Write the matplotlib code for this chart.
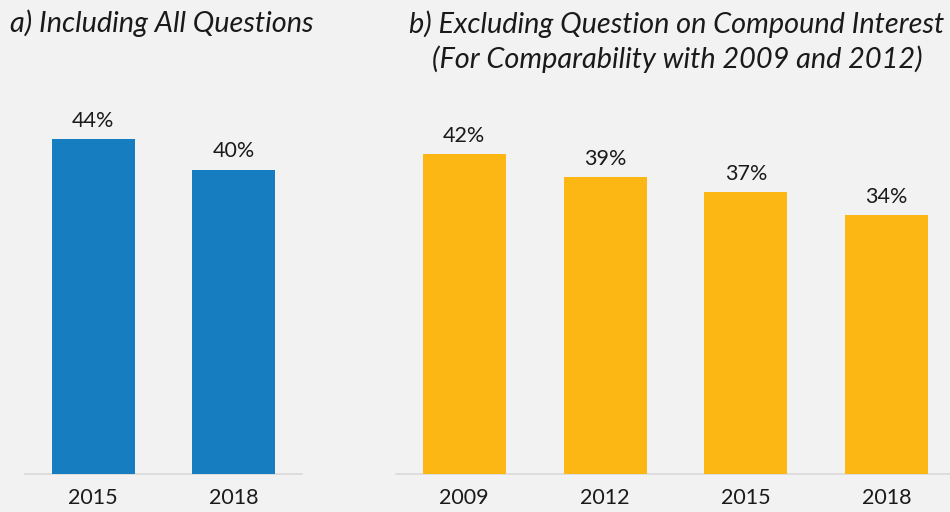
import matplotlib
matplotlib.use("Agg")
import matplotlib.pyplot as plt

plt.rcParams["font.family"] = ["Lato", "DejaVu Sans"]

years_a = ["2015", "2018"]
share_a = [44, 40]
years_b = ["2009", "2012", "2015", "2018"]
share_b = [42, 39, 37, 34]

title_a = "a) Including All Questions"
title_b = "b) Excluding Question on Compound Interest\n(For Comparability with 2009 and 2012)"

BG = "#f2f2f2"
BLUE = "#167ec0"
GOLD = "#fdb714"
INK = "#1a1a1a"

fig = plt.figure(figsize=(9.5, 5.12), dpi=100, facecolor=BG)
ax_a = fig.add_axes([25 / 950, 38 / 512, 277 / 950, 380.5 / 512])
ax_b = fig.add_axes([396 / 950, 38 / 512, 559 / 950, 380.5 / 512])


def panel(ax, cats, vals, color):
    ax.set_facecolor(BG)
    x = range(len(cats))
    bars = ax.bar(x, vals, width=0.59, color=color, zorder=2)
    ax.bar_label(bars, labels=[f"{v}%" for v in vals], padding=6,
                 fontsize=15.5, color=INK)
    ax.set_xticks(list(x))
    ax.set_xticklabels(cats, fontsize=15.5, color=INK)
    ax.set_xlim(-0.485, len(cats) - 1 + 0.485)
    ax.set_ylim(0, 50)
    ax.set_yticks([])
    for s in ("top", "left", "right"):
        ax.spines[s].set_visible(False)
    ax.spines["bottom"].set_color("#d9d9d9")
    ax.spines["bottom"].set_linewidth(1.2)
    ax.spines["bottom"].set_zorder(1)
    ax.tick_params(axis="x", length=0, pad=10)


panel(ax_a, years_a, share_a, BLUE)
panel(ax_b, years_b, share_b, GOLD)

fig.text(10 / 950, 1 - 23 / 512, title_a, ha="left", va="center",
         fontsize=20.8, style="italic", color=INK)
fig.text(677 / 950, 1 - 41.5 / 512, title_b, ha="center", va="center",
         fontsize=20.8, style="italic", color=INK, linespacing=1.33)

fig.savefig("out.png", dpi=100, facecolor=BG)
